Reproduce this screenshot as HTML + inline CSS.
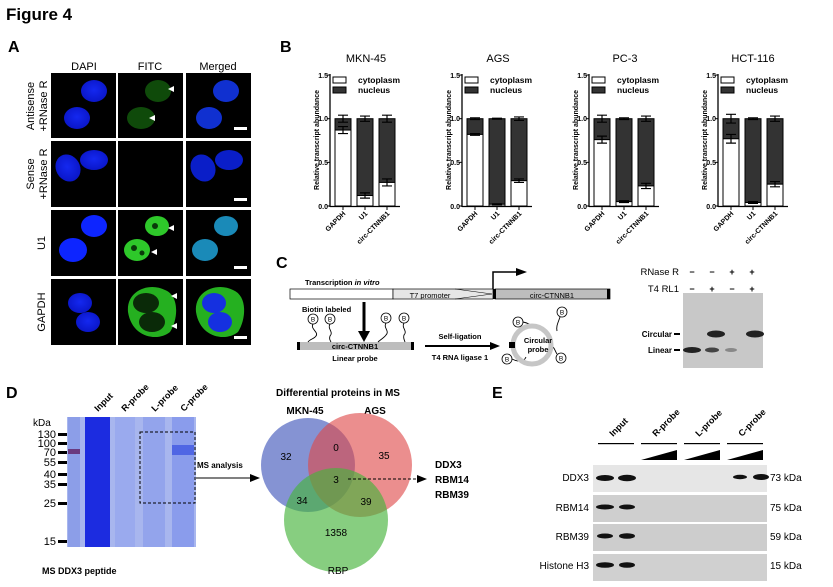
<!DOCTYPE html>
<html><head><meta charset="utf-8"><style>
html,body{margin:0;padding:0;background:#fff}
svg{display:block;font-family:"Liberation Sans",Arial,sans-serif}
.b{font-weight:bold}
</style></head><body>
<svg id="s" width="833" height="587" viewBox="0 0 833 587" xmlns="http://www.w3.org/2000/svg">
<defs>
<radialGradient id="nuc" cx="50%" cy="45%" r="55%"><stop offset="0" stop-color="#1428f0"/><stop offset="1" stop-color="#0a16c8"/></radialGradient>
</defs>
<text x="6" y="20" font-size="17" class="b">Figure 4</text>

<!-- Panel A -->
<text x="8" y="52" font-size="16" class="b">A</text>
<text x="84" y="70" font-size="11" text-anchor="middle">DAPI</text>
<text x="150" y="70" font-size="11" text-anchor="middle">FITC</text>
<text x="218" y="70" font-size="11" text-anchor="middle">Merged</text>
<g font-size="11" text-anchor="middle">
<text transform="translate(34,106) rotate(-90)">Antisense</text>
<text transform="translate(47,106) rotate(-90)">+RNase R</text>
<text transform="translate(34,174) rotate(-90)">Sense</text>
<text transform="translate(47,174) rotate(-90)">+RNase R</text>
<text transform="translate(45,243) rotate(-90)">U1</text>
<text transform="translate(45,312) rotate(-90)">GAPDH</text>
</g>
<g fill="#000">
<rect x="51" y="73" width="65" height="65"/><rect x="118" y="73" width="65" height="65"/><rect x="186" y="73" width="65" height="65"/>
<rect x="51" y="141" width="65" height="66"/><rect x="118" y="141" width="65" height="66"/><rect x="186" y="141" width="65" height="66"/>
<rect x="51" y="210" width="65" height="66"/><rect x="118" y="210" width="65" height="66"/><rect x="186" y="210" width="65" height="66"/>
<rect x="51" y="279" width="65" height="66"/><rect x="118" y="279" width="65" height="66"/><rect x="186" y="279" width="65" height="66"/>
</g>
<ellipse cx="94" cy="91" rx="13" ry="11" fill="url(#nuc)"/><ellipse cx="77" cy="118" rx="13" ry="11" fill="url(#nuc)"/>
<ellipse cx="158" cy="91" rx="13" ry="11" fill="#0f4a0a"/><ellipse cx="141" cy="118" rx="14" ry="11" fill="#0f4a0a"/>
<ellipse cx="226" cy="91" rx="13" ry="11" fill="#1030d0"/><ellipse cx="209" cy="118" rx="13" ry="11" fill="#1030d0"/>
<path d="M168,89 l6,-3 v6z M149,118 l6,-3 v6z" fill="#fff"/>
<rect x="234" y="127" width="13" height="3" fill="#fff"/>
<ellipse cx="68" cy="168" rx="12" ry="14" fill="url(#nuc)" transform="rotate(-30 68 168)"/><ellipse cx="94" cy="160" rx="14" ry="10" fill="url(#nuc)"/>
<ellipse cx="203" cy="168" rx="12" ry="14" fill="#0a1ec8" transform="rotate(-30 203 168)"/><ellipse cx="229" cy="160" rx="14" ry="10" fill="#0a1ec8"/>
<rect x="234" y="198" width="13" height="3" fill="#fff"/>
<ellipse cx="94" cy="226" rx="13" ry="11" fill="#0d25ff"/><ellipse cx="73" cy="250" rx="14" ry="12" fill="#0d25ff"/>
<ellipse cx="157" cy="226" rx="12" ry="10" fill="#2ec82a"/><ellipse cx="137" cy="250" rx="13" ry="11" fill="#2ec82a"/>
<circle cx="155" cy="226" r="3" fill="#0a3a0a"/><circle cx="134" cy="248" r="3" fill="#0a3a0a"/><circle cx="142" cy="253" r="2.5" fill="#0a3a0a"/>
<ellipse cx="226" cy="226" rx="12" ry="10" fill="#1a8ab8"/><ellipse cx="205" cy="250" rx="13" ry="11" fill="#1a8ab8"/>
<path d="M168,228 l6,-3 v6z M151,252 l6,-3 v6z" fill="#fff"/>
<rect x="234" y="266" width="13" height="3" fill="#fff"/>
<ellipse cx="80" cy="303" rx="12" ry="10" fill="url(#nuc)"/><ellipse cx="88" cy="322" rx="12" ry="10" fill="url(#nuc)"/>
<path d="M128,312 C126,290 150,282 165,290 C180,296 178,320 170,332 C158,342 132,338 128,312z" fill="#25b020"/>
<ellipse cx="146" cy="303" rx="13" ry="10" fill="#0a2a08"/><ellipse cx="152" cy="322" rx="13" ry="10" fill="#0a2a08"/>
<path d="M196,312 C194,290 218,282 233,290 C248,296 246,320 238,332 C226,342 200,338 196,312z" fill="#25b020"/>
<ellipse cx="214" cy="303" rx="12" ry="10" fill="#1530e0"/><ellipse cx="220" cy="322" rx="12" ry="10" fill="#1530e0"/>
<path d="M171,296 l6,-3 v6z M171,326 l6,-3 v6z" fill="#fff"/>
<rect x="234" y="336" width="13" height="3" fill="#fff"/>

<!-- Panel B -->
<text x="280" y="52" font-size="16" class="b">B</text>
<g font-size="11" text-anchor="middle">
<text x="366" y="62">MKN-45</text><text x="498" y="62">AGS</text><text x="625" y="62">PC-3</text><text x="753" y="62">HCT-116</text>
</g>
<g id="charts"></g>
<g font-size="7" class="b" text-anchor="middle">
<text transform="translate(319,140) rotate(-90)">Relative transcript abundance</text>
<text transform="translate(451,140) rotate(-90)">Relative transcript abundance</text>
<text transform="translate(578,140) rotate(-90)">Relative transcript abundance</text>
<text transform="translate(707,140) rotate(-90)">Relative transcript abundance</text>
</g>
<g font-size="7" class="b" text-anchor="end">
<text x="328" y="78">1.5</text><text x="328" y="121">1.0</text><text x="328" y="165">0.5</text><text x="328" y="209">0.0</text>
<text x="460" y="78">1.5</text><text x="460" y="121">1.0</text><text x="460" y="165">0.5</text><text x="460" y="209">0.0</text>
<text x="587" y="78">1.5</text><text x="587" y="121">1.0</text><text x="587" y="165">0.5</text><text x="587" y="209">0.0</text>
<text x="716" y="78">1.5</text><text x="716" y="121">1.0</text><text x="716" y="165">0.5</text><text x="716" y="209">0.0</text>
</g>
<g font-size="8.5" class="b">
<text x="358" y="83">cytoplasm</text><text x="358" y="93">nucleus</text>
<text x="490" y="83">cytoplasm</text><text x="490" y="93">nucleus</text>
<text x="617" y="83">cytoplasm</text><text x="617" y="93">nucleus</text>
<text x="746" y="83">cytoplasm</text><text x="746" y="93">nucleus</text>
</g>
<g font-size="7" class="b" text-anchor="end">
<text transform="translate(346,214) rotate(-45)">GAPDH</text><text transform="translate(368,214) rotate(-45)">U1</text><text transform="translate(390,214) rotate(-45)">circ-CTNNB1</text>
<text transform="translate(478,214) rotate(-45)">GAPDH</text><text transform="translate(500,214) rotate(-45)">U1</text><text transform="translate(522,214) rotate(-45)">circ-CTNNB1</text>
<text transform="translate(605,214) rotate(-45)">GAPDH</text><text transform="translate(627,214) rotate(-45)">U1</text><text transform="translate(649,214) rotate(-45)">circ-CTNNB1</text>
<text transform="translate(734,214) rotate(-45)">GAPDH</text><text transform="translate(756,214) rotate(-45)">U1</text><text transform="translate(778,214) rotate(-45)">circ-CTNNB1</text>
</g>

<!-- Panel C -->
<text x="276" y="268" font-size="16" class="b">C</text>
<text x="305" y="285" font-size="7.5" class="b">Transcription <tspan font-style="italic">in vitro</tspan></text>
<rect x="290" y="289" width="103" height="10" fill="#fff" stroke="#000" stroke-width="0.7"/>
<rect x="393" y="289" width="100" height="10" fill="#e6e6e6" stroke="#000" stroke-width="0.7"/>
<path d="M455,289 L492,294 L455,299" fill="none" stroke="#000" stroke-width="0.5"/>
<text x="430" y="298" font-size="7.5" text-anchor="middle">T7 promoter</text>
<rect x="495" y="289" width="115" height="10" fill="#bdbdbd" stroke="#000" stroke-width="0.7"/>
<rect x="493" y="289" width="3" height="10" fill="#000"/><rect x="607" y="289" width="3" height="10" fill="#000"/>
<text x="552" y="298" font-size="7.5" text-anchor="middle">circ-CTNNB1</text>
<path d="M493,289 V272 H517" fill="none" stroke="#000" stroke-width="1.5"/><path d="M516,268 L527,272 L516,276z"/>
<text x="302" y="312" font-size="7.5" class="b">Biotin labeled</text>
<line x1="364" y1="302" x2="364" y2="332" stroke="#000" stroke-width="3"/><path d="M358,331 L364,342 L370,331z"/>
<rect x="299" y="342" width="114" height="8" fill="#bdbdbd"/><rect x="297" y="342" width="3" height="8"/><rect x="411" y="342" width="3" height="8"/>
<text x="355" y="349" font-size="7.5" text-anchor="middle" class="b">circ-CTNNB1</text>
<text x="355" y="361" font-size="7.5" text-anchor="middle" class="b">Linear probe</text>
<g fill="#fff" stroke="#000" stroke-width="0.8">
<circle cx="313" cy="319" r="5"/><circle cx="330" cy="319" r="5"/><circle cx="386" cy="318" r="5"/><circle cx="404" cy="318" r="5"/>
<circle cx="518" cy="322" r="5"/><circle cx="562" cy="312" r="5"/><circle cx="507" cy="359" r="5"/><circle cx="561" cy="358" r="5"/>
</g>
<g font-size="6.5" text-anchor="middle"><text x="313" y="321.5">B</text><text x="330" y="321.5">B</text><text x="386" y="320.5">B</text><text x="404" y="320.5">B</text>
<text x="518" y="324.5">B</text><text x="562" y="314.5">B</text><text x="507" y="361.5">B</text><text x="561" y="360.5">B</text></g>
<g fill="none" stroke="#000" stroke-width="0.9">
<path d="M313,324 c-3,5 6,8 3,12 c-2,3 -6,3 -8,6"/><path d="M330,324 c-3,5 4,8 0,12 c-1,3 0,4 1,6"/>
<path d="M386,323 c-3,5 4,8 0,12 c-2,3 -5,4 -8,7"/><path d="M404,323 c-3,5 4,8 0,12 c-1,3 0,4 1,7"/>
<path d="M523,322 c5,1 8,3 12,6"/><path d="M560,317 c-2,6 -4,9 -3,14"/><path d="M512,359 c6,3 12,3 14,-2"/><path d="M557,354 c-2,-3 -2,-5 -4,-7"/>
</g>
<line x1="425" y1="346" x2="492" y2="346" stroke="#000" stroke-width="2"/><path d="M490,342 L500,346 L490,350z"/>
<text x="460" y="339" font-size="7.5" text-anchor="middle" class="b">Self-ligation</text>
<text x="460" y="360" font-size="7.5" text-anchor="middle" class="b">T4 RNA ligase 1</text>
<circle cx="532" cy="345" r="19" fill="none" stroke="#c6c6c6" stroke-width="5"/>
<rect x="509" y="342" width="6" height="6"/>
<text x="538" y="343" font-size="7.5" text-anchor="middle" class="b">Circular</text>
<text x="538" y="352" font-size="7.5" text-anchor="middle" class="b">probe</text>
<!-- gel C -->
<text x="679" y="275" font-size="9.5" text-anchor="end">RNase R</text>
<text x="679" y="292" font-size="9.5" text-anchor="end">T4 RL1</text>
<g font-size="9" class="b" text-anchor="middle"><text x="692" y="275">−</text><text x="712" y="275">−</text><text x="732" y="275">+</text><text x="752" y="275">+</text>
<text x="692" y="292">−</text><text x="712" y="292">+</text><text x="732" y="292">−</text><text x="752" y="292">+</text></g>
<rect x="683" y="293" width="80" height="75" fill="#c8c8c8"/>
<ellipse cx="692" cy="350" rx="9" ry="3" fill="#222"/><ellipse cx="712" cy="350" rx="7" ry="2.5" fill="#444"/><ellipse cx="731" cy="350" rx="6" ry="2" fill="#888"/>
<ellipse cx="716" cy="334" rx="9" ry="3.5" fill="#222"/><ellipse cx="755" cy="334" rx="9" ry="3.5" fill="#222"/>
<text x="672" y="337" font-size="8" text-anchor="end" class="b">Circular</text><rect x="674" y="333" width="6" height="2"/>
<text x="672" y="353" font-size="8" text-anchor="end" class="b">Linear</text><rect x="674" y="349" width="6" height="2"/>

<!-- Panel D -->
<text x="6" y="398" font-size="16" class="b">D</text>
<g font-size="9" class="b">
<text transform="translate(98,412) rotate(-45)">Input</text>
<text transform="translate(125,412) rotate(-45)">R-probe</text>
<text transform="translate(155,412) rotate(-45)">L-probe</text>
<text transform="translate(184,412) rotate(-45)">C-probe</text>
</g>
<text x="33" y="426" font-size="10">kDa</text>
<rect x="67" y="417" width="129" height="130" fill="#a8b6ee"/>
<rect x="68" y="417" width="12" height="130" fill="#8c9ee8"/>
<rect x="85" y="417" width="25" height="130" fill="#1c2ce0"/>
<rect x="115" y="417" width="20" height="130" fill="#9aaaee"/>
<rect x="143" y="417" width="22" height="130" fill="#93a4ec"/>
<rect x="172" y="417" width="22" height="130" fill="#8a9cec"/>
<rect x="172" y="445" width="22" height="10" fill="#5066e4"/>
<rect x="68" y="449" width="12" height="5" fill="#6a3a80"/>
<rect x="140" y="432" width="55" height="71" fill="none" stroke="#000" stroke-dasharray="3,2"/>
<g font-size="11" text-anchor="end">
<text x="56" y="438">130</text><text x="56" y="447">100</text><text x="56" y="456">70</text><text x="56" y="466">55</text><text x="56" y="478">40</text><text x="56" y="488">35</text><text x="56" y="507">25</text><text x="56" y="545">15</text>
</g>
<g fill="#000"><rect x="58" y="433" width="9" height="3"/><rect x="58" y="442" width="9" height="3"/><rect x="58" y="451" width="9" height="3"/><rect x="58" y="461" width="9" height="3"/><rect x="58" y="473" width="9" height="3"/><rect x="58" y="483" width="9" height="3"/><rect x="58" y="502" width="9" height="3"/><rect x="58" y="540" width="9" height="3"/></g>
<text x="42" y="574" font-size="9" class="b">MS DDX3 peptide</text>
<text x="197" y="468" font-size="8" class="b">MS analysis</text>
<line x1="196" y1="478" x2="252" y2="478" stroke="#000" stroke-width="1"/><path d="M250,474 L260,478 L250,482z"/>
<text x="338" y="396" font-size="10" class="b" text-anchor="middle">Differential proteins in MS</text>
<text x="305" y="414" font-size="10" class="b" text-anchor="middle">MKN-45</text>
<text x="375" y="414" font-size="10" class="b" text-anchor="middle">AGS</text>
<circle cx="308" cy="465" r="47" fill="#3a50b8" fill-opacity="0.62"/>
<circle cx="360" cy="465" r="52" fill="#de4848" fill-opacity="0.62"/>
<circle cx="336" cy="520" r="52" fill="#46b43c" fill-opacity="0.65"/>
<g font-size="10" text-anchor="middle"><text x="286" y="460">32</text><text x="336" y="451">0</text><text x="384" y="459">35</text><text x="336" y="483">3</text><text x="302" y="504">34</text><text x="366" y="505">39</text><text x="336" y="536">1358</text><text x="338" y="574">RBP</text></g>
<line x1="348" y1="479" x2="418" y2="479" stroke="#000" stroke-dasharray="3,2"/><path d="M417,475 L427,479 L417,483z"/>
<g font-size="10" class="b"><text x="435" y="468">DDX3</text><text x="435" y="483">RBM14</text><text x="435" y="498">RBM39</text></g>

<!-- Panel E -->
<text x="492" y="398" font-size="16" class="b">E</text>
<g font-size="9" class="b">
<text transform="translate(613,437) rotate(-45)">Input</text>
<text transform="translate(656,437) rotate(-45)">R-probe</text>
<text transform="translate(699,437) rotate(-45)">L-probe</text>
<text transform="translate(742,437) rotate(-45)">C-probe</text>
</g>
<g fill="#000"><rect x="598" y="443" width="36" height="1.2"/><rect x="641" y="443" width="36" height="1.2"/><rect x="684" y="443" width="36" height="1.2"/><rect x="727" y="443" width="36" height="1.2"/>
<path d="M641,460 L677,450 L677,460z"/><path d="M684,460 L720,450 L720,460z"/><path d="M727,460 L763,450 L763,460z"/></g>
<rect x="593" y="465" width="174" height="27" fill="#e6e6e6"/>
<rect x="593" y="495" width="174" height="27" fill="#cfcfcf"/>
<rect x="593" y="524" width="174" height="27" fill="#cdcdcd"/>
<rect x="593" y="554" width="174" height="27" fill="#d0d0d0"/>
<g fill="#111"><ellipse cx="605" cy="478" rx="9" ry="3"/><ellipse cx="627" cy="478" rx="9" ry="3.2"/><ellipse cx="740" cy="477" rx="7" ry="2.2"/><ellipse cx="761" cy="477" rx="8" ry="3"/>
<ellipse cx="605" cy="507" rx="9" ry="2.5"/><ellipse cx="627" cy="507" rx="8" ry="2.5"/>
<ellipse cx="605" cy="536" rx="8" ry="2.5"/><ellipse cx="627" cy="536" rx="8" ry="2.8"/>
<ellipse cx="605" cy="565" rx="9" ry="2.8"/><ellipse cx="627" cy="565" rx="8" ry="2.8"/></g>
<g font-size="10" text-anchor="end"><text x="589" y="481">DDX3</text><text x="589" y="511">RBM14</text><text x="589" y="540">RBM39</text><text x="589" y="569">Histone H3</text></g>
<g font-size="10"><text x="770" y="481">73 kDa</text><text x="770" y="511">75 kDa</text><text x="770" y="540">59 kDa</text><text x="770" y="569">15 kDa</text></g>
</svg>
<script>
var g=document.getElementById('charts'),NS='http://www.w3.org/2000/svg';
function el(t,a){var e=document.createElementNS(NS,t);for(var k in a)e.setAttribute(k,a[k]);g.appendChild(e);}
var axes=[330,462,589,718],data=[[.87,.12,.27],[.82,.02,.29],[.76,.05,.23],[.77,.04,.25]],err=[[.04,.03,.04],[.01,.005,.02],[.04,.01,.03],[.05,.01,.03]];
var Y=function(v){return 206-v*87.3};
axes.forEach(function(x,i){
 el('line',{x1:x,y1:74,x2:x,y2:207,stroke:'#000','stroke-width':1.3});
 el('line',{x1:x,y1:206.5,x2:x+70,y2:206.5,stroke:'#000','stroke-width':1.3});
 [0,.5,1,1.5].forEach(function(v){el('line',{x1:x-3,y1:Y(v),x2:x,y2:Y(v),stroke:'#000'});});
 [0,1,2].forEach(function(j){var bx=x+5+j*22,c=data[i][j];
  el('line',{x1:bx+8,y1:206,x2:bx+8,y2:210,stroke:'#000'});
  el('rect',{x:bx,y:Y(1),width:16,height:Y(c)-Y(1),fill:'#333',stroke:'#000'});
  el('rect',{x:bx,y:Y(c),width:16,height:206-Y(c),fill:'#fff',stroke:'#000'});
  var e=err[i][j];
  [[1,e],[c,e]].forEach(function(p){el('path',{d:'M'+(bx+3)+','+Y(p[0]-p[1])+'H'+(bx+13)+'M'+(bx+8)+','+Y(p[0]-p[1])+'V'+Y(p[0]+p[1])+'M'+(bx+3)+','+Y(p[0]+p[1])+'H'+(bx+13),stroke:'#000',fill:'none','stroke-width':1.2});});
 });
 el('rect',{x:x+3,y:77,width:13,height:6,fill:'#fff',stroke:'#000'});
 el('rect',{x:x+3,y:87,width:13,height:6,fill:'#333',stroke:'#000'});
});
</script>
</body></html>
